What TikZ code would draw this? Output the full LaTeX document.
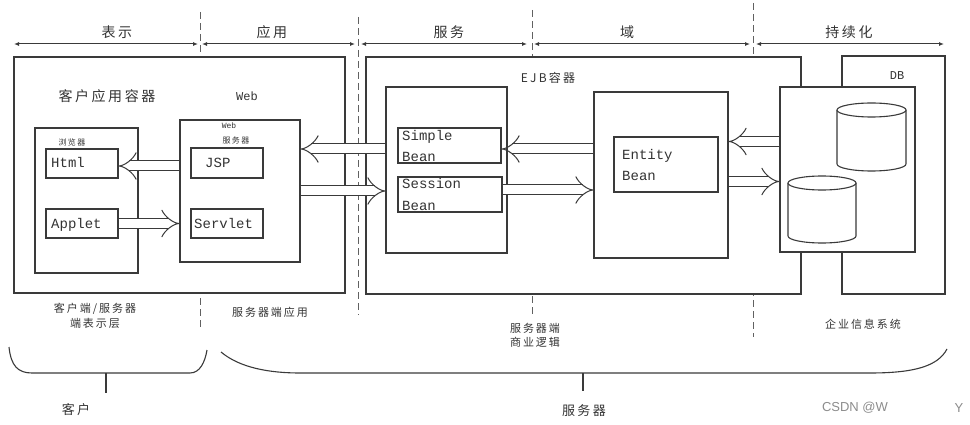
\documentclass[tikz,border=0pt]{standalone}
\usepackage{fontspec}
\setmainfont{Liberation Sans}
\newfontfamily\cjk[LetterSpace=18]{Noto Sans CJK SC}
\newfontfamily\mono{Liberation Mono}
\usetikzlibrary{arrows.meta}
\definecolor{ln}{HTML}{3A3A3A}
\definecolor{tx}{HTML}{333333}
\begin{document}
\begin{tikzpicture}[x=1pt,y=-1pt,
  box/.style={draw=ln, line width=1.2pt, rectangle, inner sep=0pt, fill=white},
  cn/.style={text=tx, inner sep=0pt, font=\cjk\fontsize{#1}{#1}\selectfont},
  cn/.default=12,
  mt/.style={text=tx, inner sep=0pt, font=\mono\fontsize{14}{14}\selectfont, anchor=base west},
  hollow/.style={draw=ln, line width=1pt, double=white, double distance=9pt, -{Implies}},
  dimline/.style={draw=ln, line width=1pt, {Latex[length=5pt,width=4pt]}-{Latex[length=5pt,width=4pt]}},
  dsh/.style={draw=ln!80, line width=0.9pt, dash pattern=on 7pt off 4pt},
  brk/.style={draw=ln, line width=1.1pt}]
\useasboundingbox (0,0) rectangle (970,425);

% dashed separators
\coordinate (v1t) at (200,12); \coordinate (v1b) at (200,330);
\coordinate (v2t) at (358,17); \coordinate (v2b) at (358,315);
\coordinate (v3t) at (532,10); \coordinate (v3b) at (532,315);
\coordinate (v4t) at (753,3);  \coordinate (v4b) at (753,337);
\draw[dsh] (v1t) -- (v1b);
\draw[dsh] (v2t) -- (v2b);
\draw[dsh] (v3t) -- (v3b);
\draw[dsh] (v4t) -- (v4b);

% top dimension lines
\coordinate (d1a) at (14,44);  \coordinate (d1b) at (198,44);
\coordinate (d2a) at (202,44); \coordinate (d2b) at (355,44);
\coordinate (d3a) at (361,44); \coordinate (d3b) at (527,44);
\coordinate (d4a) at (534,44); \coordinate (d4b) at (750,44);
\coordinate (d5a) at (756,44); \coordinate (d5b) at (944,44);
\draw[dimline] (d1a) -- (d1b);
\draw[dimline] (d2a) -- (d2b);
\draw[dimline] (d3a) -- (d3b);
\draw[dimline] (d4a) -- (d4b);
\draw[dimline] (d5a) -- (d5b);
\node[cn=14] (t1) at (117,32) {表示};
\node[cn=14] (t2) at (272,32) {应用};
\node[cn=14] (t3) at (449,32) {服务};
\node[cn=14] (t4) at (627,32) {域};
\node[cn=14] (t5) at (849,32) {持续化};

% containers
\node[box, minimum width=331pt, minimum height=236pt] (clientC) at (179.5,175) {};
\node[box, minimum width=435pt, minimum height=237pt] (ejbC) at (583.5,175.5) {};
\node[box, minimum width=103pt, minimum height=238pt] (dbOuter) at (893.5,175) {};
\node[box, minimum width=135pt, minimum height=165pt] (dbInner) at (847.5,169.5) {};

% client side
\node[cn=14] (clientT) at (107,96) {客户应用容器};
\node[box, minimum width=103pt, minimum height=145pt] (browser) at (86.5,200.5) {};
\node[cn=8] (browserT) at (72,142) {浏览器};
\node[box, minimum width=72pt, minimum height=29pt] (html) at (82,163.5) {};
\node[mt] (htmlT) at (51,168) {Html};
\node[box, minimum width=72pt, minimum height=29pt] (applet) at (82,223.5) {};
\node[mt] (appletT) at (51,228.5) {Applet};

% web side
\node[text=tx, inner sep=0pt, font=\mono\fontsize{12}{12}\selectfont] (webT) at (247,96) {Web};
\node[box, minimum width=120pt, minimum height=142pt] (websrv) at (240,191) {};
\node[text=tx, inner sep=0pt, font=\mono\fontsize{8}{8}\selectfont] (websrvT1) at (229,126) {Web};
\node[cn=8] (websrvT2) at (236,140) {服务器};
\node[box, minimum width=72pt, minimum height=30pt] (jsp) at (227,163) {};
\node[mt] (jspT) at (205,168) {JSP};
\node[box, minimum width=72pt, minimum height=29pt] (servlet) at (227,223.5) {};
\node[mt] (servletT) at (194,228.5) {Servlet};

% EJB side
\node[text=tx, inner sep=0pt, font=\cjk\fontsize{12}{12}\selectfont] (ejbT) at (548,78) {EJB容器};
\node[box, minimum width=121pt, minimum height=166pt] (sessC) at (446.5,170) {};
\node[box, minimum width=103pt, minimum height=35pt] (simple) at (449.5,145.5) {};
\node[mt] (simpleT1) at (402,141) {Simple};
\node[mt] (simpleT2) at (402,162) {Bean};
\node[box, minimum width=104pt, minimum height=35pt] (session) at (450,194.5) {};
\node[mt] (sessionT1) at (402,189) {Session};
\node[mt] (sessionT2) at (402,211) {Bean};
\node[box, minimum width=134pt, minimum height=166pt] (entityC) at (661,175) {};
\node[box, minimum width=104pt, minimum height=55pt] (entity) at (666,164.5) {};
\node[mt] (entityT1) at (622,160) {Entity};
\node[mt] (entityT2) at (622,181) {Bean};

% DB
\node[text=tx, inner sep=0pt, font=\mono\fontsize{12}{12}\selectfont] (dbT) at (897,76) {DB};
\coordinate (cyl1) at (871.5,110);
\draw[draw=ln, line width=1.1pt, fill=white] (837,110) -- (837,164) arc[start angle=180, end angle=360, x radius=34.5pt, y radius=7pt] -- (906,110);
\draw[draw=ln, line width=1.1pt, fill=white] (cyl1) ellipse[x radius=34.5pt, y radius=7pt];
\coordinate (cyl2) at (822,183);
\draw[draw=ln, line width=1.1pt, fill=white] (788,183) -- (788,236) arc[start angle=180, end angle=360, x radius=34pt, y radius=7pt] -- (856,183);
\draw[draw=ln, line width=1.1pt, fill=white] (cyl2) ellipse[x radius=34pt, y radius=7pt];

% hollow arrows
\draw[hollow] ([yshift=-2.5pt]websrv.west |- html.east) -- ([yshift=-2.5pt]html.east);
\draw[hollow] (applet.east) -- (websrv.west |- applet.east);
\draw[hollow] ([yshift=-3.5pt]sessC.west |- simple.west) -- ([yshift=-3.5pt]websrv.east |- simple.west);
\draw[hollow] ([yshift=3.5pt]websrv.east |- session.west) -- ([yshift=3.5pt]sessC.west |- session.west);
\draw[hollow] ([yshift=-3.5pt]entityC.west |- simple.east) -- ([yshift=-3.5pt]simple.east);
\draw[hollow] ([yshift=4.5pt]session.east) -- ([yshift=4.5pt]entityC.west |- session.east);
\draw[hollow] ([yshift=23pt]dbInner.west |- entity.east) -- ([yshift=23pt]entityC.east |- entity.east);
\draw[hollow] ([yshift=-17pt]entityC.east |- entity.east) -- ([yshift=-17pt]dbInner.west |- entity.east);

% bottom labels
\node[cn=11, align=center] (lab1) at (95,316) {客户端/服务器\\[3pt]端表示层};
\node[cn=11] (lab2) at (270,312) {服务器端应用};
\node[cn=11, align=center] (lab3) at (535,335) {服务器端\\[3pt]商业逻辑};
\node[cn=11] (lab4) at (863,324) {企业信息系统};

% brackets
\coordinate (kL) at (9,347); \coordinate (kR) at (207,350);
\coordinate (kM) at (106,373); \coordinate (kS) at (106,393);
\draw[brk] (kL) .. controls (11,366) and (18,373) .. (32,373) -- (190,373) .. controls (200,373) and (205,362) .. (kR);
\draw[brk] (kM) -- (kS);
\coordinate (sL) at (221,352); \coordinate (sR) at (947,349);
\coordinate (sM) at (583,373); \coordinate (sS) at (583,391);
\draw[brk] (sL) .. controls (240,368) and (270,373) .. (300,373) -- (870,373) .. controls (915,373) and (938,366) .. (sR);
\draw[brk] (sM) -- (sS);
\node[cn=13] (kT) at (76,410) {客户};
\node[cn=13] (sT) at (584,411) {服务器};

% watermark text
\node[text=black!45, inner sep=0pt, font=\fontsize{13}{13}\selectfont] (wm1) at (855,408) {CSDN @W};
\node[text=black!45, inner sep=0pt, font=\fontsize{13}{13}\selectfont] (wm2) at (959,408) {Y};
\end{tikzpicture}
\end{document}
